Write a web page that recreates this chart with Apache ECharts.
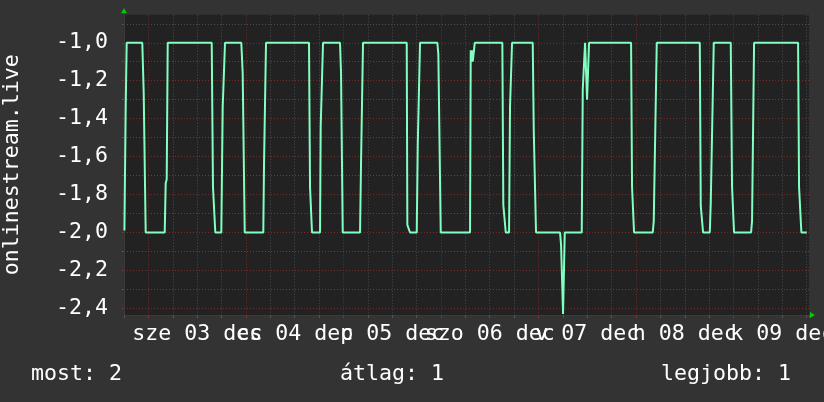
<!DOCTYPE html>
<html><head><meta charset="utf-8">
<script src="https://cdn.jsdelivr.net/npm/echarts@6/dist/echarts.min.js"></script>
<style>html,body{margin:0;padding:0;background:#333333;}#c{width:824px;height:402px;}</style>
</head><body><div id="c"></div>
<script>
// hours since midnight, 02 dec
const times = [18.1,18.42,18.66,22.50,22.85,23.17,23.34,28.02,28.26,28.51,28.76,39.59,39.90,40.23,40.47,41.95,42.29,42.61,42.86,46.87,47.21,47.46,47.71,52.28,52.46,52.70,52.95,63.53,63.78,64.02,64.27,66.24,66.41,66.73,66.98,71.16,71.41,71.65,71.83,76.09,76.33,76.58,76.82,87.58,87.73,88.14,88.39,90.04,90.29,90.53,90.85,95.11,95.36,95.70,95.95,103.16,103.33,103.45,103.62,103.83,104.32,111.11,111.35,111.70,111.95,112.76,113.00,113.25,113.50,118.59,118.84,119.16,119.40,125.31,125.56,125.80,126.05,126.30,126.47,130.65,130.90,131.15,131.47,131.72,131.96,132.21,132.45,142.79,143.03,143.28,143.52,148.13,148.37,148.77,149.11,159.70,159.94,160.26,160.51,162.16,162.40,162.80,163.14,167.32,167.64,167.89,168.13,172.32,172.56,172.81,173.06,183.89,184.13,184.45,184.70,186.03];
const values = [-1.99,-1.34,-1.00,-1.00,-1.265,-1.27,-2.00,-2.00,-1.74,-1.72,-1.00,-1.00,-1.76,-1.77,-2.00,-2.00,-1.34,-1.33,-1.00,-1.00,-1.16,-1.17,-2.00,-2.00,-1.64,-1.63,-1.00,-1.00,-1.76,-1.77,-2.00,-2.00,-1.44,-1.43,-1.00,-1.00,-1.16,-1.17,-2.00,-2.00,-1.64,-1.63,-1.00,-1.00,-1.96,-1.97,-2.00,-2.00,-1.54,-1.53,-1.00,-1.00,-1.06,-1.07,-2.00,-2.00,-1.04,-1.10,-1.04,-1.10,-1.00,-1.00,-1.855,-1.86,-2.00,-2.00,-1.335,-1.33,-1.00,-1.00,-1.46,-1.47,-2.00,-2.00,-2.065,-2.07,-2.43,-2.43,-2.00,-2.00,-1.245,-1.24,-1.00,-1.00,-1.30,-1.30,-1.00,-1.00,-1.76,-1.77,-2.00,-2.00,-1.94,-1.93,-1.00,-1.00,-1.86,-1.865,-2.00,-2.00,-1.845,-1.845,-1.00,-1.00,-1.76,-1.765,-2.00,-2.00,-1.94,-1.93,-1.00,-1.00,-1.76,-1.77,-2.00,-2.00];
const dayLabels = ['sze 03 dec','cs 04 dec','p 05 dec','szo 06 dec','v 07 dec','h 08 dec','k 09 dec'];
const dayNoons = [36,60,84,108,132,156,180];
const midnights = [24,48,72,96,120,144,168];
const yMajorTicks = [-2.4,-2.2,-2.0,-1.8,-1.6,-1.4,-1.2,-1.0];
const yAllTicks = [-2.4,-2.3,-2.2,-2.1,-2.0,-1.9,-1.8,-1.7,-1.6,-1.5,-1.4,-1.3,-1.2,-1.1,-1.0,-0.9];
const yTitle = 'onlinestream.live';
const legendTexts = ['most: 2','átlag: 1','legjobb: 1'];

const FONT = 'DejaVu Sans Mono', FS = 21.6;
const GREY = '#4c4c4c', RED = '#7a2c2c';
const chart = echarts.init(document.getElementById('c'), null, {renderer:'canvas'});
const data = times.map((t,i)=>[t, values[i]]);
const xMin = 18, xMax = 186.7, yMin = -2.435, yMax = -0.852;
const labelFn = v=>{const i=dayNoons.indexOf(Math.round(v));return i>=0?dayLabels[i]:'';};
const evenNoons = dayNoons.filter((d,i)=>i%2===0);
const oddNoons = dayNoons.filter((d,i)=>i%2===1);
function labelAxis(vals){
  return {type:'value', min:xMin, max:xMax, position:'bottom',
    axisLine:{show:false}, axisTick:{show:false}, splitLine:{show:false},
    axisLabel:{customValues:vals, formatter:labelFn, fontFamily:FONT, fontSize:FS, color:'#ffffff', margin:8, hideOverlap:false, showMinLabel:true, showMaxLabel:true}};
}
chart.setOption({
  animation:false,
  backgroundColor:'#333333',
  title: [
    {text:legendTexts[0], left:31, top:363},
    {text:legendTexts[1], left:340, top:363},
    {text:legendTexts[2], left:661, top:363}
  ].map(o=>Object.assign(o,{padding:0, textStyle:{fontFamily:FONT,fontSize:FS,fontWeight:'normal',color:'#ffffff'}})),
  grid:{left:124, top:14.7, right:14.5, bottom:87, show:true, backgroundColor:'#222222', borderWidth:0, containLabel:false, outerBoundsMode:'none'},
  xAxis:[{
    type:'value', min:xMin, max:xMax, interval:6,
    axisLine:{show:true, lineStyle:{color:'#3a3a3a', width:1}},
    axisTick:{show:true, length:3, lineStyle:{color:'#555555'}},
    axisLabel:{show:false},
    splitLine:{show:true, lineStyle:{color:[GREY,RED,GREY,GREY], type:[1,2], width:1}}
  },{
    type:'value', min:xMin, max:xMax, position:'bottom',
    axisLine:{show:true, lineStyle:{color:'#00d000', width:0}, symbol:['none','triangle'], symbolSize:[6,5], symbolOffset:[0,3]},
    axisTick:{show:true, customValues:midnights, length:3, lineStyle:{color:'#8a2a2a'}},
    axisLabel:{show:false}, splitLine:{show:false}
  }, labelAxis(evenNoons), labelAxis(oddNoons)],
  yAxis:[{
    type:'value', min:yMin, max:yMax,
    name:yTitle, nameLocation:'middle', nameGap:101,
    nameTextStyle:{fontFamily:FONT, fontSize:FS, color:'#ffffff'},
    axisLine:{show:true, lineStyle:{color:'#3a3a3a', width:1}},
    axisTick:{show:true, length:2, customValues:yAllTicks, lineStyle:{color:'#555555'}},
    axisLabel:{customValues:yMajorTicks, formatter:v=>v.toFixed(1).replace('.',','), fontFamily:FONT, fontSize:FS, color:'#ffffff', margin:16},
    splitLine:{show:true, lineStyle:{color:[RED,GREY], type:[1,2], width:1}}
  },{
    type:'value', min:yMin, max:yMax, position:'left',
    axisLine:{show:true, lineStyle:{color:'#00d000', width:0}, symbol:['none','triangle'], symbolSize:[6,5], symbolOffset:[0,4]},
    axisTick:{show:true, customValues:yMajorTicks, length:2, lineStyle:{color:'#8a2a2a'}},
    axisLabel:{show:false}, splitLine:{show:false}
  }],
  series:[{
    type:'line', data:data, showSymbol:false, symbol:'none', clip:true,
    lineStyle:{color:'#80ffc0', width:2}, itemStyle:{color:'#80ffc0'}
  }]
});
</script></body></html>
